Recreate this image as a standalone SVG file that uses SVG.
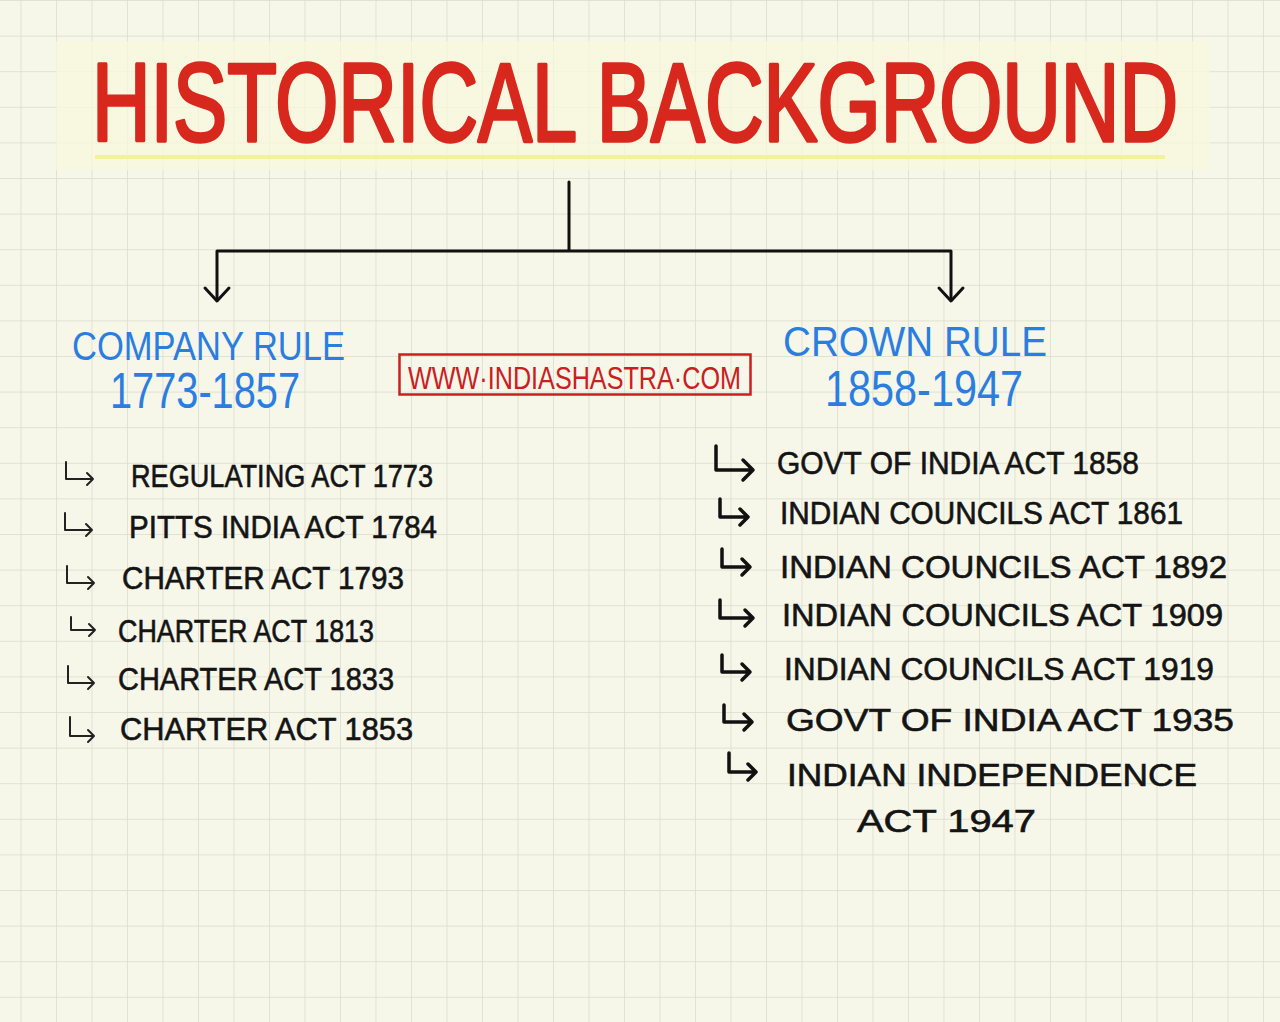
<svg xmlns="http://www.w3.org/2000/svg" width="1280" height="1022" viewBox="0 0 1280 1022">
  <defs>
    <pattern id="grid" x="20.5" y="0" width="35.5" height="35.6" patternUnits="userSpaceOnUse">
      <path d="M0 0 V35.6 M0 0 H35.5" fill="none" stroke="#dcdccd" stroke-width="1.5"/>
    </pattern>
    <style>
      .title{font-family:"Liberation Sans",Arial,sans-serif;font-size:80px;fill:#d8281e;stroke:#d8281e;stroke-width:2.5;stroke-linejoin:round}
      .blue{font-family:"Liberation Sans",Arial,sans-serif;fill:#2b7ee0}
      .web{font-family:"Liberation Sans",Arial,sans-serif;font-size:31px;fill:#c9201f}
      .item{font-family:"Liberation Sans",Arial,sans-serif;font-size:32px;fill:#141414;stroke:#141414;stroke-width:0.6}
      .conn{fill:none;stroke:#111;stroke-width:3;stroke-linecap:round;stroke-linejoin:round}
      .bl{fill:none;stroke:#222;stroke-width:2;stroke-linecap:round;stroke-linejoin:round}
      .br{fill:none;stroke:#111;stroke-width:3.5;stroke-linecap:round;stroke-linejoin:round}
    </style>
  </defs>

  <rect x="0" y="0" width="1280" height="1022" fill="#f6f6e9"/>
  <rect x="0" y="0" width="1280" height="1022" fill="url(#grid)"/>

  <g id="title">
    <rect x="56" y="41" width="1154" height="129" fill="#fafadc" opacity="0.7"/>
    <line x1="95" y1="157" x2="1165" y2="157" stroke="#f3f29c" stroke-width="4"/>
    <text class="title" x="92" y="102.2" transform="scale(1,1.38)" textLength="1086" lengthAdjust="spacingAndGlyphs">HISTORICAL BACKGROUND</text>
  </g>

  <g id="connectors">
    <path class="conn" d="M569 182 V250"/>
    <path class="conn" d="M217 300 V251 H951 V300"/>
    <path class="conn" d="M205 288 L217 301 L229 288"/>
    <path class="conn" d="M939 288 L951 301 L963 288"/>
  </g>

  <g id="company-rule">
    <text class="blue" x="72" y="360" font-size="40" textLength="273" lengthAdjust="spacingAndGlyphs">COMPANY RULE</text>
    <text class="blue" x="110" y="408" font-size="50" textLength="190" lengthAdjust="spacingAndGlyphs">1773-1857</text>
  </g>

  <g id="crown-rule">
    <text class="blue" x="783" y="356" font-size="42" textLength="264" lengthAdjust="spacingAndGlyphs">CROWN  RULE</text>
    <text class="blue" x="825" y="406" font-size="50" textLength="198" lengthAdjust="spacingAndGlyphs">1858-1947</text>
  </g>

  <g id="website">
    <rect x="399.5" y="354.5" width="351" height="40" fill="none" stroke="#c9201f" stroke-width="2.5"/>
    <text class="web" x="408" y="389" textLength="333" lengthAdjust="spacingAndGlyphs">WWW·INDIASHASTRA·COM</text>
  </g>

  <g id="company-acts">
    <g id="act-1773">
      <path class="bl" d="M66 462 V479 H93 M87 473 L93 479 L87 485"/>
      <text class="item" x="131" y="487" textLength="302" lengthAdjust="spacingAndGlyphs">REGULATING ACT 1773</text>
    </g>
    <g id="act-1784">
      <path class="bl" d="M65 513 V530 H92 M86 524 L92 530 L86 536"/>
      <text class="item" x="129" y="538" textLength="308" lengthAdjust="spacingAndGlyphs">PITTS INDIA ACT 1784</text>
    </g>
    <g id="act-1793">
      <path class="bl" d="M67 566 V583 H94 M88 577 L94 583 L88 589"/>
      <text class="item" x="122" y="589" textLength="282" lengthAdjust="spacingAndGlyphs">CHARTER ACT 1793</text>
    </g>
    <g id="act-1813">
      <path class="bl" d="M71 617 V630 H95 M89 624 L95 630 L89 636"/>
      <text class="item" x="118" y="642" textLength="256" lengthAdjust="spacingAndGlyphs">CHARTER ACT 1813</text>
    </g>
    <g id="act-1833">
      <path class="bl" d="M68 666 V683 H94 M88 677 L94 683 L88 689"/>
      <text class="item" x="118" y="690" textLength="276" lengthAdjust="spacingAndGlyphs">CHARTER ACT 1833</text>
    </g>
    <g id="act-1853">
      <path class="bl" d="M70 717 V736 H94 M88 730 L94 736 L88 742"/>
      <text class="item" x="120" y="740" textLength="293" lengthAdjust="spacingAndGlyphs">CHARTER ACT 1853</text>
    </g>
  </g>

  <g id="crown-acts">
    <g id="act-1858">
      <path class="br" d="M716 446 V470 H753 M743 460 L753 470 L743 480"/>
      <text class="item" x="777" y="474" textLength="362" lengthAdjust="spacingAndGlyphs">GOVT OF INDIA ACT 1858</text>
    </g>
    <g id="act-1861">
      <path class="br" d="M720 499 V517 H748 M740 509 L748 517 L740 525"/>
      <text class="item" x="780" y="524" textLength="403" lengthAdjust="spacingAndGlyphs">INDIAN COUNCILS ACT 1861</text>
    </g>
    <g id="act-1892">
      <path class="br" d="M722 549 V567 H750 M742 559 L750 567 L742 575"/>
      <text class="item" x="780" y="578" textLength="447" lengthAdjust="spacingAndGlyphs">INDIAN COUNCILS  ACT 1892</text>
    </g>
    <g id="act-1909">
      <path class="br" d="M720 600 V618 H753 M745 610 L753 618 L745 626"/>
      <text class="item" x="782" y="626" textLength="441" lengthAdjust="spacingAndGlyphs">INDIAN COUNCILS ACT 1909</text>
    </g>
    <g id="act-1919">
      <path class="br" d="M722 655 V672 H750 M742 664 L750 672 L742 680"/>
      <text class="item" x="784" y="680" textLength="430" lengthAdjust="spacingAndGlyphs">INDIAN COUNCILS ACT 1919</text>
    </g>
    <g id="act-1935">
      <path class="br" d="M724 705 V722 H752 M744 714 L752 722 L744 730"/>
      <text class="item" x="786" y="731" textLength="448" lengthAdjust="spacingAndGlyphs">GOVT OF INDIA ACT 1935</text>
    </g>
    <g id="act-1947">
      <path class="br" d="M729 753 V772 H756 M748 764 L756 772 L748 780"/>
      <text class="item" x="787" y="786" textLength="410" lengthAdjust="spacingAndGlyphs">INDIAN INDEPENDENCE</text>
      <text class="item" x="857" y="832" textLength="179" lengthAdjust="spacingAndGlyphs">ACT  1947</text>
    </g>
  </g>
</svg>
